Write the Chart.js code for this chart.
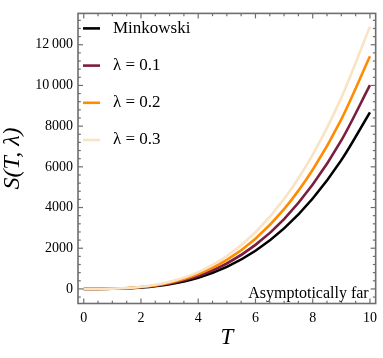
<!DOCTYPE html>
<html>
<head>
<meta charset="utf-8">
<script src="https://cdn.jsdelivr.net/npm/chart.js@4/dist/chart.umd.min.js"></script>
<style>
html,body{margin:0;padding:0;background:#fff;}
#wrap{position:relative;width:383px;height:358px;}
</style>
</head>
<body>
<div id="wrap"><canvas id="c" width="383" height="358"></canvas></div>
<script>
// Data
const T = [0, 1, 2, 3, 4, 5, 6, 7, 8, 9, 10];
const minkowski = [0, 9, 70, 235, 555, 1085, 1875, 2975, 4445, 6330, 8680];
const lambda01 = [0, 10, 80, 270, 640, 1250, 2165, 3435, 5130, 7300, 10015];
const lambda02 = [0, 11, 91, 308, 732, 1430, 2470, 3920, 5855, 8335, 11430];
const lambda03 = [0, 13, 103, 348, 826, 1610, 2785, 4420, 6600, 9400, 12890];
const seriesLabels = ['Minkowski', 'λ = 0.1', 'λ = 0.2', 'λ = 0.3'];
const xTickValues = [0, 2, 4, 6, 8, 10];
const xTickLabels = ['0', '2', '4', '6', '8', '10'];
const yTickValues = [0, 2000, 4000, 6000, 8000, 10000, 12000];
const yTickLabels = ['0', '2000', '4000', '6000', '8000', '10\u2009000', '12\u2009000'];
const annotationText = 'Asymptotically far';

const colors = ['#000000', '#7b1e3e', '#ff8c00', '#f8e3c4'];
const FRAME = '#6e6e6e';
const SERIF = "'Liberation Serif', 'DejaVu Serif', serif";

const seriesValues = [minkowski, lambda01, lambda02, lambda03];
const datasets = seriesValues.map((vals, i) => ({
  label: seriesLabels[i],
  data: T.map((t, k) => ({x: t, y: vals[k]})),
  borderColor: colors[i],
  backgroundColor: colors[i],
  borderWidth: 2.6,
  pointRadius: 0,
  cubicInterpolationMode: 'monotone',
  fill: false,
  order: 3 - i
}));

const framePlugin = {
  id: 'frame',
  afterDraw(chart) {
    const ctx = chart.ctx;
    const a = chart.chartArea;
    const xs = chart.scales.x, ys = chart.scales.y;
    ctx.save();
    ctx.strokeStyle = FRAME;
    ctx.lineWidth = 1.2;
    const tick = (x1, y1, x2, y2) => { ctx.beginPath(); ctx.moveTo(x1, y1); ctx.lineTo(x2, y2); ctx.stroke(); };
    for (let v = 0; v <= 10.2; v += 0.5) {
      const px = xs.getPixelForValue(v);
      if (px < a.left || px > a.right) continue;
      const major = Math.abs(v / 2 - Math.round(v / 2)) < 1e-6;
      const L = major ? 5 : 2.8;
      tick(px, a.bottom, px, a.bottom - L);
      tick(px, a.top, px, a.top + L);
    }
    for (let v = -400; v <= 13600; v += 400) {
      const py = ys.getPixelForValue(v);
      if (py < a.top || py > a.bottom) continue;
      const major = v % 2000 === 0;
      const L = major ? 5 : 2.8;
      tick(a.left, py, a.left + L, py);
      tick(a.right, py, a.right - L, py);
    }
    ctx.lineWidth = 1.6;
    ctx.strokeRect(a.left, a.top, a.right - a.left, a.bottom - a.top);

    // legend
    chart.data.datasets.forEach((ds, i) => {
      const y = a.top + 15 + i * 37.2;
      ctx.strokeStyle = ds.borderColor;
      ctx.lineWidth = 2.6;
      tick(a.left + 5, y, a.left + 22, y);
      ctx.fillStyle = '#000';
      ctx.font = '17px ' + SERIF;
      ctx.textBaseline = 'middle';
      ctx.textAlign = 'left';
      ctx.fillText(ds.label, a.left + 35, y);
    });

    // annotation
    ctx.fillStyle = '#000';
    ctx.font = '16px ' + SERIF;
    ctx.textAlign = 'right';
    ctx.textBaseline = 'alphabetic';
    ctx.fillText(annotationText, a.right - 7, a.bottom - 6);
    ctx.restore();
  }
};

new Chart(document.getElementById('c'), {
  type: 'line',
  data: {datasets},
  options: {
    responsive: false,
    animation: false,
    events: [],
    layout: {padding: {left: 0, top: 1, right: 2.5, bottom: 0}},
    plugins: {legend: {display: false}, tooltip: {enabled: false}},
    scales: {
      x: {
        type: 'linear',
        min: -0.2,
        max: 10.2,
        afterFit(s) { s.height = 54.5; },
        afterBuildTicks(s) { s.ticks = xTickValues.map(v => ({value: v})); },
        grid: {display: false, drawTicks: false},
        border: {display: false},
        ticks: {
          padding: 6,
          color: '#000',
          font: {family: SERIF, size: 14},
          maxRotation: 0,
          callback: (v) => { const k = xTickValues.indexOf(v); return k >= 0 ? xTickLabels[k] : ''; }
        },
        title: {
          display: true,
          text: 'T',
          color: '#000',
          font: {family: SERIF, size: 23, style: 'italic'},
          padding: {top: 0, bottom: 6}
        }
      },
      y: {
        type: 'linear',
        min: -716,
        max: 13540,
        afterFit(s) { s.width = 78; },
        afterBuildTicks(s) { s.ticks = yTickValues.map(v => ({value: v})); },
        grid: {display: false, drawTicks: false},
        border: {display: false},
        ticks: {
          padding: 5,
          color: '#000',
          font: {family: SERIF, size: 14},
          callback: (v) => { const k = yTickValues.indexOf(v); return k >= 0 ? yTickLabels[k] : ''; }
        },
        title: {
          display: true,
          text: 'S(T, λ)',
          color: '#000',
          font: {family: SERIF, size: 24, style: 'italic'},
          padding: {top: -2, bottom: 0}
        }
      }
    }
  },
  plugins: [framePlugin]
});
</script>
</body>
</html>
